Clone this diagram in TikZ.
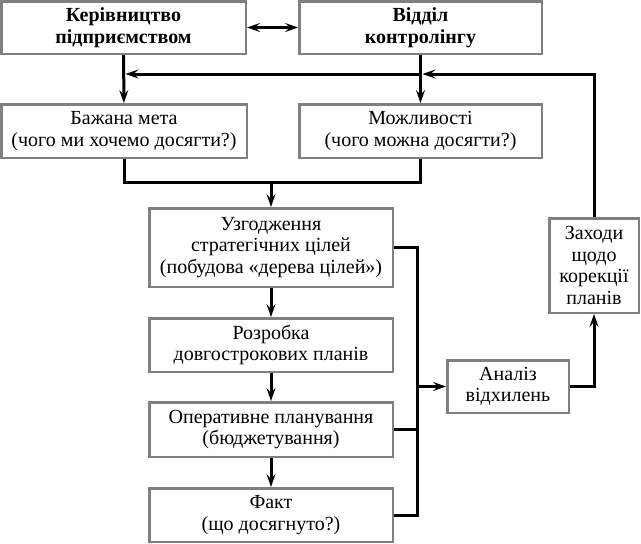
\documentclass[tikz,border=0pt]{standalone}
\usepackage{fontspec}
\setmainfont{Liberation Serif}
\usetikzlibrary{arrows.meta}
\begin{document}
\begin{tikzpicture}[x=1pt,y=-1pt,
    blk/.style={draw=gray,line width=2.5pt,align=center,inner sep=0pt,font=\fontsize{20}{21.5}\selectfont},
    ln/.style={line width=3pt},
    arr/.style={ln,-{Stealth[length=13pt,width=9pt,inset=5pt]}},
    darr/.style={ln,{Stealth[length=13pt,width=9pt,inset=5pt]}-{Stealth[length=13pt,width=9pt,inset=5pt]}}]
    \useasboundingbox (0,0) rectangle (641,544);
    \node[blk,minimum width=244.5pt,minimum height=52.5pt,font=\fontsize{20}{22.5}\selectfont\bfseries] (ceo) at (123.5,27.5) {Керівництво\\підприємством};
    \node[blk,minimum width=242.5pt,minimum height=52.5pt,font=\fontsize{20}{22.5}\selectfont\bfseries] (ctrl) at (420.5,27.5) {Відділ\\контролінгу};
    \node[blk,minimum width=245.5pt,minimum height=53.5pt] (goal) at (124,131) {Бажана мета\\(чого ми хочемо досягти?)};
    \node[blk,minimum width=242.5pt,minimum height=53.5pt] (poss) at (420.5,131) {Можливості\\(чого можна досягти?)};
    \node[blk,minimum width=243.5pt,minimum height=78.5pt] (agree) at (271,247.5) {Узгодження\\стратегічних цілей\\(побудова «дерева цілей»)};
    \node[blk,minimum width=243.5pt,minimum height=53.5pt] (long) at (271,345) {Розробка\\довгострокових планів};
    \node[blk,minimum width=243.5pt,minimum height=54.5pt] (oper) at (271,429.5) {Оперативне планування\\(бюджетування)};
    \node[blk,minimum width=243.5pt,minimum height=53.5pt] (fact) at (271,515) {Факт\\(що досягнуто?)};
    \node[blk,minimum width=121.5pt,minimum height=52.5pt] (anal) at (508,386.5) {Аналіз\\відхилень};
    \node[blk,minimum width=89.5pt,minimum height=94.5pt] (corr) at (594,265.5) {Заходи\\щодо\\корекції\\планів};
    \coordinate (fbl) at (123.5,74);
    \coordinate (fbr) at (420.5,74);
    \coordinate (join) at (271,182);
    \coordinate (bus) at (417,386.5);
    \draw[darr] (ceo) -- (ctrl);
    \draw[arr] (ceo) -- (goal);
    \draw[arr] (ctrl) -- (poss);
    \draw[arr] (corr.north) |- ([xshift=2pt]fbr);
    \draw[arr] (fbr) -- ([xshift=2pt]fbl);
    \draw[ln] (goal.south) |- (join) -| (poss.south);
    \draw[arr] (join) -- (agree);
    \draw[arr] (agree) -- (long);
    \draw[arr] (long) -- (oper);
    \draw[arr] (oper) -- (fact);
    \draw[ln] (agree.east) -| (bus) |- (fact.east);
    \draw[ln] (oper.east) -- (oper.east -| bus);
    \draw[arr] (bus) -- (anal);
    \draw[arr] (anal) -| (corr);
\end{tikzpicture}
\end{document}
